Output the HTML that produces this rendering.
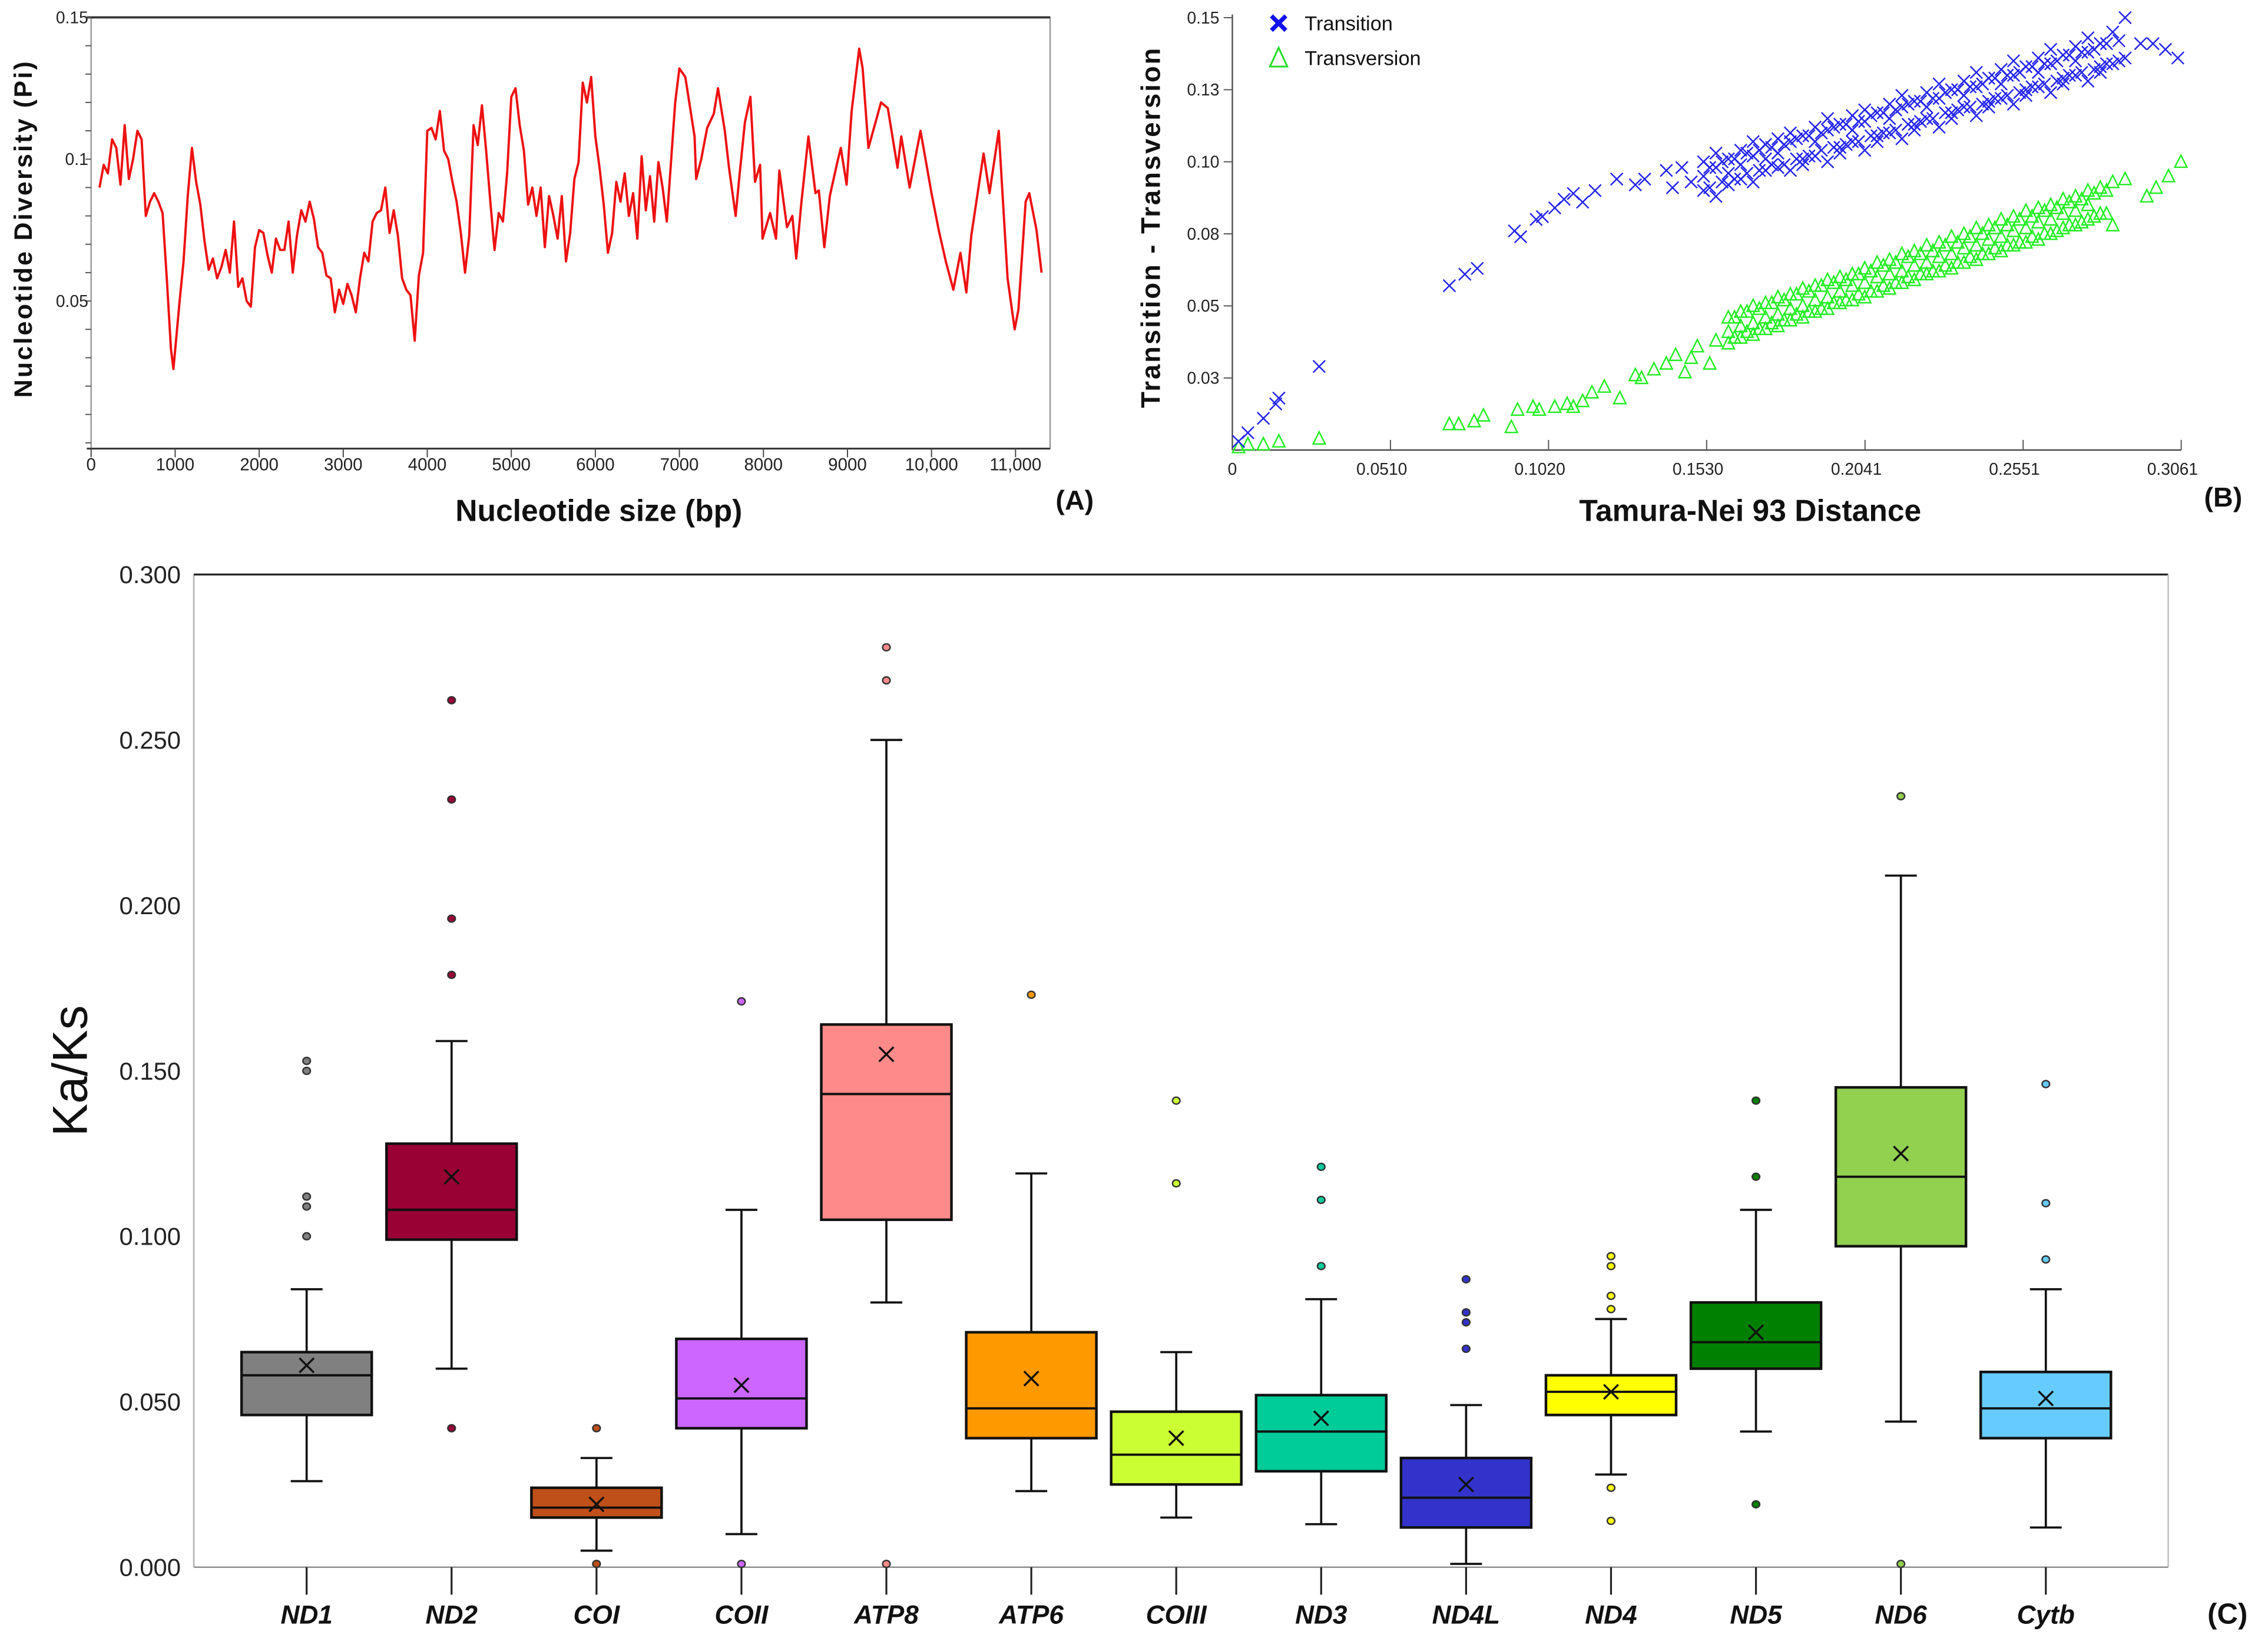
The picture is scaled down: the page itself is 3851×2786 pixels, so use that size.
<!DOCTYPE html>
<html><head><meta charset="utf-8">
<style>
html,body{margin:0;padding:0;background:#fff;}
svg{display:block;}
text{font-family:"Liberation Sans",sans-serif;}
</style></head>
<body>
<svg id="fig" xmlns="http://www.w3.org/2000/svg" width="3851" height="2786" viewBox="0 0 1568 1134" preserveAspectRatio="none">
<rect x="0" y="0" width="1568" height="1134" fill="#fff"/>
<g id="panelA"></g>
<g id="panelB"></g>
<g id="panelC"></g>
</svg>
<script>
// ---------- Panel A data ----------
const aBp = [100,150,200,250,300,350,400,450,500,550,600,650,700,750,800,850,900,950,980,1050,1100,1150,1200,1250,1300,1350,1400,1450,1500,1550,1600,1650,1700,1750,1800,1850,1900,1950,2000,2050,2100,2150,2200,2250,2300,2350,2400,2450,2500,2550,2600,2650,2700,2750,2800,2850,2900,2950,3000,3050,3100,3150,3200,3250,3300,3350,3400,3450,3500,3550,3600,3650,3700,3750,3800,3850,3900,3950,4000,4050,4100,4150,4200,4250,4300,4350,4400,4450,4500,4550,4600,4650,4700,4750,4800,4850,4900,4950,5000,5050,5100,5150,5200,5250,5300,5350,5400,5450,5500,5550,5600,5650,5700,5750,5800,5850,5900,5950,6000,6050,6100,6150,6200,6250,6300,6350,6400,6450,6500,6550,6600,6650,6700,6750,6800,6850,6900,6950,7000,7070,7180,7200,7260,7330,7410,7460,7540,7590,7670,7715,7780,7845,7900,7960,7990,8080,8150,8190,8280,8345,8390,8450,8535,8620,8660,8725,8790,8880,8920,8990,9050,9140,9180,9250,9400,9480,9595,9640,9740,9870,10000,10086,10170,10260,10345,10414,10474,10620,10690,10800,10905,10990,11034,11120,11164,11250,11310];
const aPi = [0.090,0.098,0.095,0.107,0.104,0.091,0.112,0.093,0.100,0.110,0.107,0.080,0.085,0.088,0.085,0.081,0.058,0.033,0.026,0.049,0.064,0.087,0.104,0.092,0.084,0.071,0.061,0.065,0.058,0.062,0.068,0.060,0.078,0.055,0.058,0.050,0.048,0.069,0.075,0.074,0.066,0.060,0.072,0.068,0.068,0.078,0.060,0.073,0.082,0.078,0.085,0.079,0.069,0.067,0.059,0.058,0.046,0.054,0.049,0.056,0.052,0.046,0.058,0.067,0.064,0.078,0.081,0.082,0.090,0.074,0.082,0.073,0.058,0.054,0.052,0.036,0.059,0.067,0.110,0.111,0.107,0.117,0.103,0.100,0.092,0.085,0.074,0.060,0.073,0.112,0.105,0.119,0.103,0.085,0.068,0.081,0.078,0.095,0.122,0.125,0.112,0.103,0.084,0.090,0.080,0.090,0.069,0.087,0.080,0.072,0.087,0.064,0.074,0.093,0.099,0.127,0.120,0.129,0.108,0.097,0.084,0.067,0.074,0.092,0.085,0.095,0.080,0.088,0.072,0.101,0.082,0.094,0.078,0.099,0.090,0.078,0.099,0.120,0.132,0.129,0.108,0.093,0.100,0.111,0.116,0.125,0.110,0.097,0.080,0.094,0.113,0.122,0.092,0.098,0.072,0.081,0.072,0.096,0.076,0.080,0.065,0.084,0.108,0.088,0.089,0.069,0.087,0.099,0.104,0.091,0.117,0.139,0.132,0.104,0.120,0.118,0.097,0.108,0.090,0.110,0.088,0.075,0.064,0.054,0.067,0.053,0.073,0.102,0.088,0.110,0.058,0.040,0.047,0.085,0.088,0.075,0.060];
const aXTicks = [0,1000,2000,3000,4000,5000,6000,7000,8000,9000,10000,11000];
const aXTickLabels = ["0","1000","2000","3000","4000","5000","6000","7000","8000","9000","10,000","11,000"];
const aYTicks = [0.15,0.1,0.05];
const aYTickLabels = ["0.15","0.1","0.05"];

// ---------- Panel B data ----------
const bTsX = [0.002,0.005,0.010,0.014,0.015,0.028,0.070,0.075,0.079,0.091,0.093,0.098,0.100,0.104,0.107,0.110,0.113,0.117,0.124,0.130,0.133,0.140,0.142,0.145,0.148,
0.152,0.152,0.152,0.156,0.156,0.156,0.160,0.160,0.160,0.164,0.164,0.164,0.168,0.168,0.168,0.172,0.172,0.172,0.176,0.176,0.176,0.180,0.180,0.180,0.184,0.184,0.184,0.188,0.188,0.188,0.192,0.192,0.192,0.196,0.196,0.196,0.200,0.200,0.200,0.204,0.204,0.204,0.208,0.208,0.208,0.212,0.212,0.212,0.216,0.216,0.216,0.220,0.220,0.220,0.224,0.224,0.224,0.228,0.228,0.228,0.232,0.232,0.232,0.236,0.236,0.236,0.240,0.240,0.240,0.244,0.244,0.244,0.248,0.248,0.248,0.252,0.252,0.252,0.256,0.256,0.256,0.260,0.260,0.260,0.264,0.264,0.264,0.268,0.268,0.268,0.272,0.272,0.272,0.276,0.276,0.276,0.280,0.280,0.280,0.284,0.284,0.288,0.288,0.293,0.297,0.301,0.305,
0.154,0.154,0.158,0.158,0.162,0.162,0.166,0.166,0.170,0.170,0.174,0.174,0.178,0.178,0.182,0.182,0.186,0.186,0.190,0.190,0.194,0.194,0.198,0.198,0.202,0.202,0.206,0.206,0.210,0.210,0.214,0.214,0.218,0.218,0.222,0.222,0.226,0.226,0.230,0.230,0.234,0.234,0.238,0.238,0.242,0.242,0.246,0.246,0.250,0.250,0.254,0.254,0.258,0.258,0.262,0.262,0.266,0.266,0.270,0.270,0.274,0.274,0.278,0.278,0.282,0.282,0.286,0.286];
const bTsY = [0.003,0.006,0.011,0.016,0.018,0.029,0.057,0.061,0.063,0.076,0.074,0.080,0.081,0.084,0.087,0.089,0.086,0.090,0.094,0.092,0.094,0.097,0.091,0.098,0.093,
0.100,0.090,0.095,0.088,0.098,0.103,0.092,0.101,0.096,0.104,0.094,0.099,0.093,0.102,0.107,0.097,0.106,0.101,0.108,0.098,0.103,0.097,0.107,0.110,0.101,0.109,0.099,0.112,0.102,0.107,0.100,0.111,0.115,0.105,0.113,0.103,0.116,0.107,0.111,0.104,0.114,0.118,0.109,0.117,0.107,0.120,0.110,0.115,0.108,0.119,0.123,0.113,0.121,0.111,0.124,0.115,0.119,0.112,0.122,0.127,0.117,0.125,0.115,0.128,0.119,0.123,0.116,0.126,0.131,0.121,0.129,0.119,0.132,0.122,0.127,0.120,0.130,0.135,0.125,0.133,0.123,0.136,0.126,0.131,0.124,0.134,0.139,0.129,0.137,0.127,0.140,0.130,0.135,0.128,0.138,0.143,0.133,0.141,0.131,0.145,0.134,0.150,0.136,0.141,0.141,0.139,0.136,
0.091,0.098,0.100,0.093,0.094,0.101,0.103,0.096,0.097,0.104,0.105,0.099,0.099,0.106,0.108,0.101,0.102,0.109,0.110,0.104,0.105,0.112,0.113,0.106,0.107,0.114,0.116,0.109,0.110,0.117,0.118,0.111,0.113,0.120,0.121,0.114,0.115,0.122,0.124,0.117,0.118,0.125,0.126,0.119,0.120,0.127,0.129,0.122,0.123,0.130,0.131,0.124,0.126,0.133,0.134,0.127,0.128,0.135,0.137,0.130,0.131,0.138,0.139,0.132,0.134,0.141,0.142,0.135];
const bTvX = [0.002,0.005,0.010,0.015,0.028,0.070,0.073,0.078,0.081,0.090,0.092,0.097,0.099,0.104,0.108,0.110,0.113,0.116,0.120,0.125,0.130,0.132,0.136,0.140,0.143,0.146,0.148,0.150,0.154,0.156,
0.160,0.160,0.160,0.164,0.164,0.164,0.168,0.168,0.168,0.172,0.172,0.172,0.176,0.176,0.176,0.180,0.180,0.180,0.184,0.184,0.184,0.188,0.188,0.188,0.192,0.192,0.192,0.196,0.196,0.196,0.200,0.200,0.200,0.204,0.204,0.204,0.208,0.208,0.208,0.212,0.212,0.212,0.216,0.216,0.216,0.220,0.220,0.220,0.224,0.224,0.224,0.228,0.228,0.228,0.232,0.232,0.232,0.236,0.236,0.236,0.240,0.240,0.240,0.244,0.244,0.244,0.248,0.248,0.248,0.252,0.252,0.252,0.256,0.256,0.256,0.260,0.260,0.260,0.264,0.264,0.264,0.268,0.268,0.268,0.272,0.272,0.272,0.276,0.276,0.276,0.280,0.280,0.284,0.284,0.288,0.295,0.298,0.302,0.306,
0.162,0.162,0.166,0.166,0.170,0.170,0.174,0.174,0.178,0.178,0.182,0.182,0.186,0.186,0.190,0.190,0.194,0.194,0.198,0.198,0.202,0.202,0.206,0.206,0.210,0.210,0.214,0.214,0.218,0.218,0.222,0.222,0.226,0.226,0.230,0.230,0.234,0.234,0.238,0.238,0.242,0.242,0.246,0.246,0.250,0.250,0.254,0.254,0.258,0.258,0.262,0.262,0.266,0.266,0.270,0.270,0.274,0.274,0.278,0.278,0.282,0.282];
const bTvY = [0.001,0.002,0.002,0.003,0.004,0.009,0.009,0.010,0.012,0.008,0.014,0.015,0.014,0.015,0.016,0.015,0.017,0.020,0.022,0.018,0.026,0.025,0.028,0.030,0.033,0.027,0.032,0.036,0.030,0.038,
0.046,0.037,0.041,0.039,0.048,0.043,0.050,0.040,0.044,0.042,0.051,0.046,0.053,0.043,0.047,0.045,0.054,0.049,0.056,0.046,0.050,0.048,0.057,0.052,0.059,0.049,0.053,0.051,0.060,0.055,0.061,0.052,0.057,0.053,0.063,0.058,0.065,0.055,0.060,0.056,0.066,0.061,0.068,0.058,0.062,0.059,0.069,0.064,0.071,0.061,0.065,0.062,0.072,0.067,0.074,0.063,0.068,0.065,0.075,0.070,0.077,0.066,0.071,0.068,0.078,0.073,0.080,0.069,0.074,0.071,0.081,0.076,0.083,0.072,0.077,0.073,0.084,0.079,0.085,0.075,0.080,0.077,0.087,0.082,0.088,0.078,0.083,0.080,0.090,0.085,0.091,0.082,0.078,0.093,0.094,0.088,0.091,0.095,0.100,
0.039,0.046,0.048,0.041,0.042,0.049,0.051,0.044,0.045,0.052,0.054,0.047,0.048,0.055,0.057,0.049,0.051,0.058,0.059,0.052,0.054,0.061,0.062,0.055,0.057,0.064,0.065,0.058,0.060,0.067,0.068,0.061,0.062,0.069,0.071,0.064,0.065,0.072,0.074,0.067,0.068,0.075,0.077,0.070,0.071,0.078,0.080,0.072,0.074,0.081,0.083,0.075,0.076,0.084,0.086,0.078,0.079,0.087,0.089,0.081,0.082,0.090];
const bXTicks = [0,0.0510,0.1020,0.1530,0.2041,0.2551,0.3061];
const bXTickLabels = ["0","0.0510","0.1020","0.1530","0.2041","0.2551","0.3061"];
const bYTicks = [0.15,0.125,0.10,0.075,0.05,0.025];
const bYTickLabels = ["0.15","0.13","0.10","0.08","0.05","0.03"];

// ---------- Panel C data ----------
const genes = ["ND1","ND2","COI","COII","ATP8","ATP6","COIII","ND3","ND4L","ND4","ND5","ND6","Cytb"];
const geneColors = ["#808080","#990033","#c0501a","#cc66ff","#ff8a8a","#ff9900","#ccff33","#00cc99","#3333cc","#ffff00","#008000","#92d050","#66ccff"];
const q1 = [0.046,0.099,0.015,0.042,0.105,0.039,0.025,0.029,0.012,0.046,0.060,0.097,0.039];
const q3 = [0.065,0.128,0.024,0.069,0.164,0.071,0.047,0.052,0.033,0.058,0.080,0.145,0.059];
const medians = [0.058,0.108,0.018,0.051,0.143,0.048,0.034,0.041,0.021,0.053,0.068,0.118,0.048];
const means = [0.061,0.118,0.019,0.055,0.155,0.057,0.039,0.045,0.025,0.053,0.071,0.125,0.051];
const whiskLo = [0.026,0.060,0.005,0.010,0.080,0.023,0.015,0.013,0.001,0.028,0.041,0.044,0.012];
const whiskHi = [0.084,0.159,0.033,0.108,0.250,0.119,0.065,0.081,0.049,0.075,0.108,0.209,0.084];
const outliers = [[0.153,0.150,0.112,0.109,0.100],[0.262,0.232,0.196,0.179,0.042],[0.042,0.001],[0.171,0.001],[0.278,0.268,0.001],[0.173],[0.141,0.116],[0.121,0.111,0.091],[0.087,0.077,0.074,0.066],[0.094,0.091,0.082,0.078,0.024,0.014],[0.141,0.118,0.019],[0.233,0.001],[0.146,0.110,0.093]];
const cYTicks = [0,0.05,0.10,0.15,0.20,0.25,0.30];
const cYTickLabels = ["0.000","0.050","0.100","0.150","0.200","0.250","0.300"];

const NS = "http://www.w3.org/2000/svg";
function mk(parent, tag, attrs, txt){
  const e = document.createElementNS(NS, tag);
  for (const k in attrs) e.setAttribute(k, attrs[k]);
  if (txt !== undefined) e.textContent = txt;
  parent.appendChild(e);
  return e;
}

// ---------- Panel A ----------
(function(){
  const g = document.getElementById('panelA');
  const X0=63, X1=726, Y0=12, Y1=310;
  const ax = bp => X0 + bp*0.0581;
  const ay = v => Y0 + (0.15 - v)*1960;
  let e = mk(g,'rect',{x:X0,y:Y0,width:X1-X0,height:Y1-Y0,fill:'none',stroke:'#9a9a9a','stroke-width':1});
   
  e = mk(g,'line',{x1:X0-3,y1:Y0,x2:X1,y2:Y0,stroke:'#333','stroke-width':1.5});
   
  e = mk(g,'line',{x1:X0-3,y1:Y1,x2:X1,y2:Y1,stroke:'#333','stroke-width':1.2});
   
  for (let i=0;i<=15;i++){
    const t = mk(g,'line',{x1:X0-4,y1:ay(i*0.01),x2:X0,y2:ay(i*0.01),stroke:'#555','stroke-width':0.8});
     
  }
  aYTicks.forEach((v,i)=>{
    const t = mk(g,'text',{x:X0-2,y:ay(v)+4,'font-size':11.5,'text-anchor':'end',fill:'#222'},aYTickLabels[i]);
     
  });
  aXTicks.forEach((v,i)=>{
    const t = mk(g,'line',{x1:ax(v),y1:Y1,x2:ax(v),y2:Y1+6,stroke:'#444','stroke-width':0.8});
     
    const l = mk(g,'text',{x:ax(v),y:Y1+15,'font-size':12,'text-anchor':'middle',fill:'#222'},aXTickLabels[i]);
     
  });
  const pts = aBp.map((b,i)=>ax(b).toFixed(1)+','+ay(aPi[i]).toFixed(1)).join(' ');
  e = mk(g,'polyline',{points:pts,fill:'none',stroke:'#ee1111','stroke-width':1.6,'stroke-linejoin':'round'});
   
  e = mk(g,'text',{x:0,y:0,'font-size':17.5,'font-weight':'bold','text-anchor':'middle',transform:'translate(22,158) rotate(-90)',fill:'#111','letter-spacing':'1.3'},'Nucleotide Diversity (Pi)');
   
  e = mk(g,'text',{x:414,y:360,'font-size':21,'font-weight':'bold','text-anchor':'middle',fill:'#111'},'Nucleotide size (bp)');
   
  e = mk(g,'text',{x:743,y:352,'font-size':19,'font-weight':'bold','text-anchor':'middle',fill:'#111'},'(A)');
   
})();

// ---------- Panel B ----------
(function(){
  const g = document.getElementById('panelB');
  const X0=852, X1=1508, Y1=311;
  const bx = v => X0 + v/0.3061*(X1-X0);
  const by = v => Y1 - v/0.025*49.8;
  let e = mk(g,'line',{x1:X0,y1:10,x2:X0,y2:Y1,stroke:'#555','stroke-width':1});
   
  e = mk(g,'line',{x1:X0,y1:Y1,x2:X1,y2:Y1,stroke:'#444','stroke-width':1});
   
  bYTicks.forEach((v,i)=>{
    const t = mk(g,'line',{x1:X0-6,y1:by(v),x2:X0,y2:by(v),stroke:'#555','stroke-width':0.8});
     
    const l = mk(g,'text',{x:X0-9,y:by(v)+4,'font-size':11.5,'text-anchor':'end',fill:'#222'},bYTickLabels[i]);
     
  });
  bXTicks.forEach((v,i)=>{
    const t = mk(g,'line',{x1:bx(v),y1:Y1-7,x2:bx(v),y2:Y1,stroke:'#555','stroke-width':0.8});
     
    const l = mk(g,'text',{x:bx(v)-(i===0?0:6),y:Y1+17,'font-size':11.5,'text-anchor':'middle',fill:'#222'},bXTickLabels[i]);
     
  });
  const s=4.2;
  bTvX.forEach((v,i)=>{
    const x=bx(v), y=by(bTvY[i]);
    const p = mk(g,'path',{d:`M${x-s},${y+s*0.9}L${x},${y-s*1.1}L${x+s},${y+s*0.9}Z`,fill:'none',stroke:'#22ee22','stroke-width':1});
     
  });
  bTsX.forEach((v,i)=>{
    const x=bx(v), y=by(bTsY[i]);
    const p = mk(g,'path',{d:`M${x-s},${y-s}L${x+s},${y+s}M${x-s},${y+s}L${x+s},${y-s}`,fill:'none',stroke:'#2222ee','stroke-width':1});
     
  });
  // legend
  e = mk(g,'path',{d:'M879,11L889,21M879,21L889,11',stroke:'#1111ee','stroke-width':3});
   
  e = mk(g,'text',{x:902,y:21,'font-size':14,fill:'#111'},'Transition');
   
  e = mk(g,'path',{d:'M878,46L884,33L890,46Z',fill:'none',stroke:'#22dd22','stroke-width':1.2});
   
  e = mk(g,'text',{x:902,y:45,'font-size':14,fill:'#111'},'Transversion');
   
  e = mk(g,'text',{x:0,y:0,'font-size':18.5,'font-weight':'bold','text-anchor':'middle',transform:'translate(802,157) rotate(-90)',fill:'#111','letter-spacing':'1.2'},'Transition - Transversion');
   
  e = mk(g,'text',{x:1210,y:360,'font-size':21,'font-weight':'bold','text-anchor':'middle',fill:'#111'},'Tamura-Nei 93 Distance');
   
  e = mk(g,'text',{x:1537,y:350,'font-size':19,'font-weight':'bold','text-anchor':'middle',fill:'#111'},'(B)');
   
})();

// ---------- Panel C ----------
(function(){
  const g = document.getElementById('panelC');
  const X0=134, X1=1499, Y0=397, Y1=1083;
  const cy = v => Y1 - v/0.3*(Y1-Y0);
  const cx = i => 212 + i*100.2;
  let e = mk(g,'line',{x1:X0,y1:Y0,x2:X0,y2:Y1,stroke:'#bbb','stroke-width':1.2});
   
  e = mk(g,'line',{x1:X0,y1:Y0,x2:X1,y2:Y0,stroke:'#222','stroke-width':1.3});
   
  e = mk(g,'line',{x1:X1,y1:Y0,x2:X1,y2:Y1,stroke:'#bbb','stroke-width':1});
   
  e = mk(g,'line',{x1:X0,y1:Y1,x2:X1,y2:Y1,stroke:'#888','stroke-width':1});
   
  cYTicks.forEach((v,i)=>{
    const l = mk(g,'text',{x:X0-9,y:cy(v)+6,'font-size':17,'text-anchor':'end',fill:'#222'},cYTickLabels[i]);
     
  });
  const hw=45, cw=11;
  genes.forEach((name,i)=>{
    const x = cx(i);
    let t = mk(g,'line',{x1:x,y1:Y1,x2:x,y2:Y1+19,stroke:'#222','stroke-width':1.3});
     
    t = mk(g,'text',{x:x,y:1122,'font-size':18,'font-weight':'bold','font-style':'italic','text-anchor':'middle',fill:'#111'},name);
     
    t = mk(g,'line',{x1:x,y1:cy(whiskHi[i]),x2:x,y2:cy(q3[i]),stroke:'#111','stroke-width':1.5});
     
    t = mk(g,'line',{x1:x,y1:cy(whiskLo[i]),x2:x,y2:cy(q1[i]),stroke:'#111','stroke-width':1.5});
     
    t = mk(g,'line',{x1:x-cw,y1:cy(whiskHi[i]),x2:x+cw,y2:cy(whiskHi[i]),stroke:'#111','stroke-width':1.5});
     
    t = mk(g,'line',{x1:x-cw,y1:cy(whiskLo[i]),x2:x+cw,y2:cy(whiskLo[i]),stroke:'#111','stroke-width':1.5});
     
    t = mk(g,'rect',{x:x-hw,y:cy(q3[i]),width:hw*2,height:cy(q1[i])-cy(q3[i]),fill:geneColors[i],stroke:'#111','stroke-width':1.8});
     
    t = mk(g,'line',{x1:x-hw,y1:cy(medians[i]),x2:x+hw,y2:cy(medians[i]),stroke:'#111','stroke-width':1.6});
     
    const my=cy(means[i]), m=5;
    t = mk(g,'path',{d:`M${x-m},${my-m}L${x+m},${my+m}M${x-m},${my+m}L${x+m},${my-m}`,stroke:'#111','stroke-width':1.4});
     
    outliers[i].forEach(v=>{
      const c = mk(g,'ellipse',{cx:x,cy:cy(v),rx:2.6,ry:2.4,fill:geneColors[i],stroke:'#333','stroke-width':1});
       
    });
  });
  e = mk(g,'text',{x:0,y:0,'font-size':34,'text-anchor':'middle',transform:'translate(60,740) rotate(-90)',fill:'#111'},'Ka/Ks');
   
  e = mk(g,'text',{x:1540,y:1122,'font-size':20,'font-weight':'bold','text-anchor':'middle',fill:'#111'},'(C)');
   
})();
</script>
</body></html>
